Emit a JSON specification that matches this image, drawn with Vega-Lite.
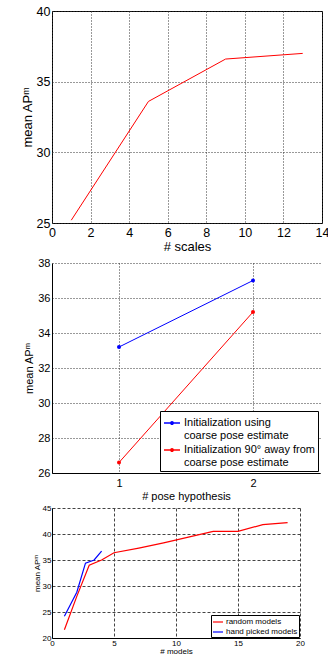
{
  "$schema": "https://vega.github.io/schema/vega-lite/v6.json",
  "padding": {"left": 20, "top": 4, "right": 2, "bottom": 0},
  "config": {
    "font": "Liberation Sans",
    "view": {"stroke": null},
    "axis": {
      "labelColor": "black",
      "titleColor": "black",
      "titleFontWeight": "normal",
      "domainColor": "black",
      "ticks": false,
      "gridColor": "#333333",
      "gridDash": [1, 2],
      "gridOpacity": 1,
      "labelFlush": false,
      "labelOverlap": false
    }
  },
  "spacing": 40,
  "bounds": "flush",
  "resolve": {"scale": {"color": "independent"}, "legend": {"color": "independent"}},
  "vconcat": [
    {
      "width": 270,
      "height": 212,
      "view": {"stroke": "black", "strokeWidth": 1},
      "data": {"values": [
        {"scales": 1, "ap": 25.2},
        {"scales": 5, "ap": 33.6},
        {"scales": 9, "ap": 36.6},
        {"scales": 13, "ap": 37.0}
      ]},
      "mark": {"type": "line", "color": "#ff0000", "strokeWidth": 1},
      "encoding": {
        "x": {"field": "scales", "type": "quantitative",
          "scale": {"domain": [0, 14], "nice": false},
          "axis": {"title": "# scales", "values": [0, 2, 4, 6, 8, 10, 12, 14], "labelFontSize": 12.5, "titleFontSize": 13, "domain": false, "labelPadding": 3, "titlePadding": 2}},
        "y": {"field": "ap", "type": "quantitative",
          "scale": {"domain": [25, 40], "nice": false, "zero": false},
          "axis": {"title": "mean APᵐ", "values": [25, 30, 35, 40], "labelFontSize": 12.5, "titleFontSize": 13, "domain": false, "labelPadding": 2, "titlePadding": 2}}
      }
    },
    {
      "spacing": 35,
      "bounds": "flush",
      "resolve": {"scale": {"color": "independent"}, "legend": {"color": "independent"}},
      "vconcat": [
        {
          "width": 268,
          "height": 210,
          "data": {"values": [
            {"hyp": 1, "ap": 33.2, "series": "Initialization using|coarse pose estimate"},
            {"hyp": 2, "ap": 37.0, "series": "Initialization using|coarse pose estimate"},
            {"hyp": 1, "ap": 26.6, "series": "Initialization 90° away from|coarse pose estimate"},
            {"hyp": 2, "ap": 35.2, "series": "Initialization 90° away from|coarse pose estimate"}
          ]},
          "mark": {"type": "line", "strokeWidth": 1, "point": {"filled": true, "size": 16}},
          "encoding": {
            "x": {"field": "hyp", "type": "quantitative",
              "scale": {"domain": [0.5, 2.5], "nice": false, "zero": false},
              "axis": {"title": "# pose hypothesis", "values": [1, 2], "labelFontSize": 11, "titleFontSize": 11, "labelPadding": 4, "titlePadding": 2}},
            "y": {"field": "ap", "type": "quantitative",
              "scale": {"domain": [26, 38], "nice": false, "zero": false},
              "axis": {"title": "mean APᵐ", "values": [26, 28, 30, 32, 34, 36, 38], "labelFontSize": 11, "titleFontSize": 11, "labelPadding": 2, "titlePadding": 3}},
            "color": {"field": "series", "type": "nominal",
              "scale": {"domain": ["Initialization using|coarse pose estimate", "Initialization 90° away from|coarse pose estimate"], "range": ["#0000ff", "#ff0000"]},
              "legend": {"title": null, "orient": "bottom-right", "offset": 2, "labelExpr": "split(datum.label, '|')",
                "labelFontSize": 11, "labelColor": "black", "labelLimit": 300, "labelOffset": 3,
                "strokeColor": "black", "fillColor": "white", "padding": 3,
                "symbolType": "M-1,0L1,0M-0.15,0A0.15,0.15,0,1,1,0.15,0A0.15,0.15,0,1,1,-0.15,0Z",
                "symbolSize": 256, "symbolStrokeWidth": 1.5, "rowPadding": 0}}
          }
        },
        {
          "width": 248,
          "height": 130,
          "data": {"values": [
            {"models": 1, "ap": 21.6, "series": "random models"},
            {"models": 2, "ap": 28.0, "series": "random models"},
            {"models": 3, "ap": 34.0, "series": "random models"},
            {"models": 4, "ap": 35.0, "series": "random models"},
            {"models": 5, "ap": 36.4, "series": "random models"},
            {"models": 7, "ap": 37.3, "series": "random models"},
            {"models": 9, "ap": 38.3, "series": "random models"},
            {"models": 11, "ap": 39.4, "series": "random models"},
            {"models": 13, "ap": 40.5, "series": "random models"},
            {"models": 15, "ap": 40.5, "series": "random models"},
            {"models": 17, "ap": 41.8, "series": "random models"},
            {"models": 19, "ap": 42.2, "series": "random models"},
            {"models": 1, "ap": 24.2, "series": "hand picked models"},
            {"models": 2, "ap": 28.8, "series": "hand picked models"},
            {"models": 2.7, "ap": 34.4, "series": "hand picked models"},
            {"models": 3.4, "ap": 35.0, "series": "hand picked models"},
            {"models": 4, "ap": 36.7, "series": "hand picked models"}
          ]},
          "mark": {"type": "line", "strokeWidth": 1.2},
          "encoding": {
            "x": {"field": "models", "type": "quantitative",
              "scale": {"domain": [0, 20], "nice": false},
              "axis": {"title": "# models", "values": [0, 5, 10, 15, 20], "labelFontSize": 8, "titleFontSize": 8, "labelPadding": 1, "titlePadding": 0, "gridDash": [3, 2], "gridColor": "#444444"}},
            "y": {"field": "ap", "type": "quantitative",
              "scale": {"domain": [20, 45], "nice": false, "zero": false},
              "axis": {"title": "mean APᵐ", "values": [20, 25, 30, 35, 40, 45], "labelFontSize": 8, "titleFontSize": 8, "labelPadding": 1, "titlePadding": 1, "gridDash": [3, 2], "gridColor": "#444444"}},
            "color": {"field": "series", "type": "nominal",
              "scale": {"domain": ["random models", "hand picked models"], "range": ["#ff0000", "#0000ff"]},
              "legend": {"title": null, "orient": "bottom-right", "offset": 1,
                "labelFontSize": 8, "labelColor": "black", "labelLimit": 200,
                "strokeColor": "black", "fillColor": "white", "padding": 1,
                "symbolType": "stroke", "symbolSize": 100, "symbolStrokeWidth": 1.2, "rowPadding": 0, "labelOffset": 2}}
          }
        }
      ]
    }
  ]
}
